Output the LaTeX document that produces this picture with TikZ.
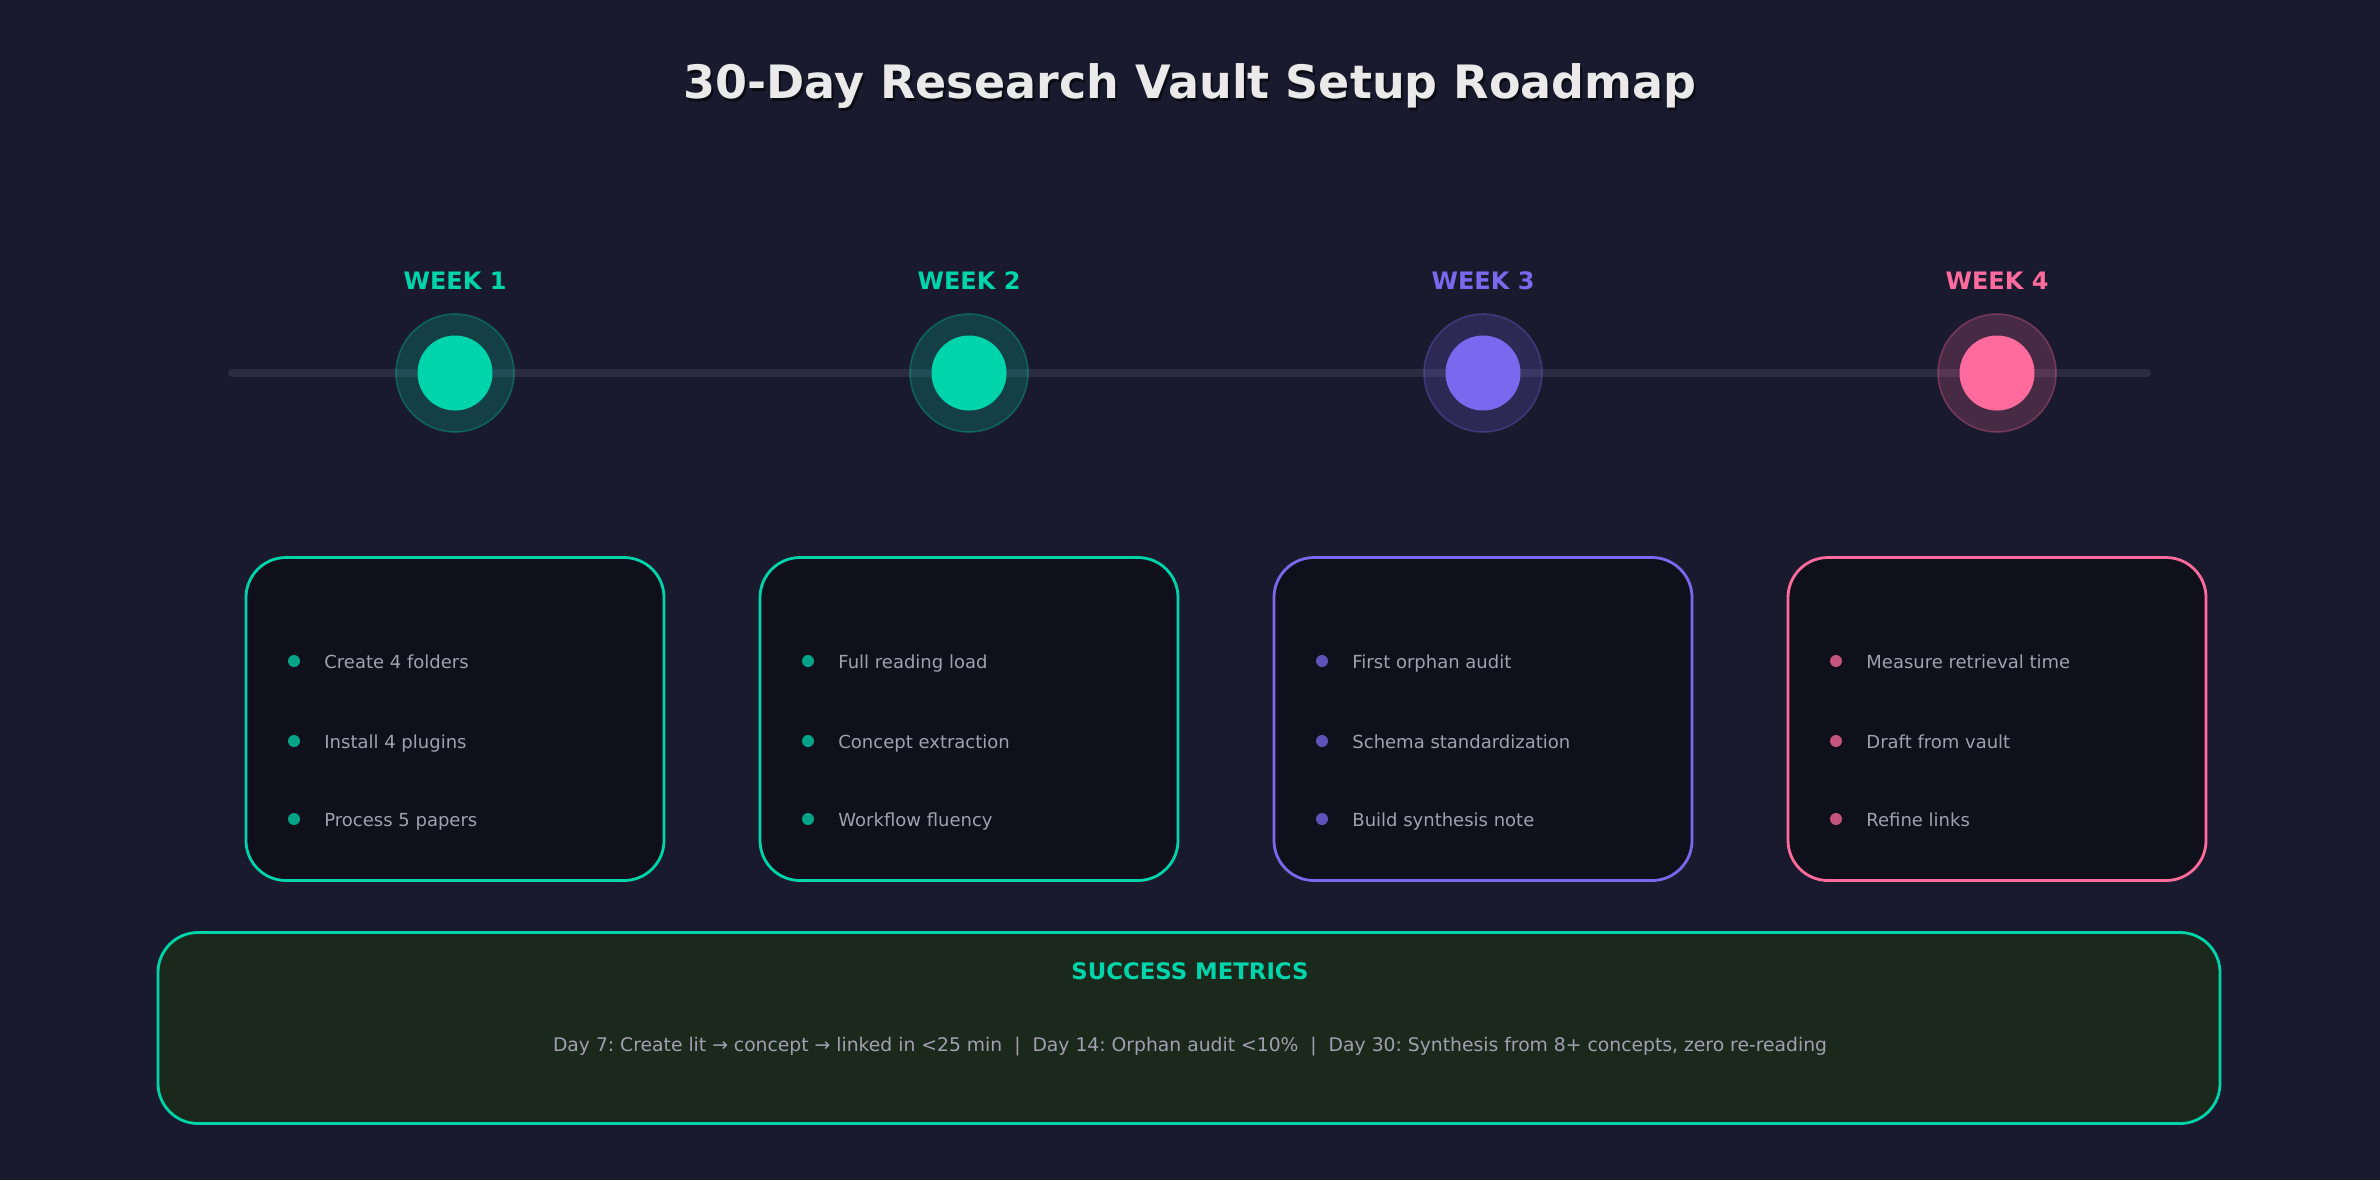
\documentclass[tikz,border=0pt]{standalone}
\usepackage{fontspec}
\setmainfont{DejaVu Sans}
\usepackage{xcolor}
\usetikzlibrary{positioning}
\frenchspacing

\definecolor{bg}{HTML}{1A1A2E}
\definecolor{track}{HTML}{2B2B42}
\definecolor{wkteal}{HTML}{00D4AA}
\definecolor{wkviolet}{HTML}{7B68EE}
\definecolor{wkpink}{HTML}{FF6B9D}
\definecolor{cardfill}{HTML}{10101C}
\definecolor{metricfill}{HTML}{1B291D}
\definecolor{itemgray}{HTML}{A0A0B0}
\definecolor{titlewhite}{HTML}{EAEAEA}

\begin{document}
\begin{tikzpicture}[x=0.5pt,y=-0.5pt,
	halo/.style={circle,minimum size=59pt,inner sep=0pt,fill=#1,fill opacity=0.2,
		draw=#1,draw opacity=0.3,line width=0.8pt},
	core/.style={circle,minimum size=37.5pt,inner sep=0pt,fill=#1},
	weeklabel/.style={text=#1,font=\bfseries\fontsize{12}{14}\selectfont,anchor=base,inner sep=0pt},
	card/.style={draw=#1,line width=1.4pt,fill=cardfill,rounded corners=20pt,
		minimum width=209pt,minimum height=161.5pt,inner sep=0pt},
	bullet/.style={circle,minimum size=6pt,inner sep=0pt,fill=#1,fill opacity=0.75},
	item/.style={text=itemgray,font=\fontsize{9}{11}\selectfont,anchor=base west,inner sep=0pt}]

	\fill[bg] (0,0) rectangle (2380,1180);
	\useasboundingbox (0,0) rectangle (2380,1180);

	\node[text=black,opacity=0.55,font=\bfseries\fontsize{23}{27}\selectfont,anchor=base,inner sep=0pt]
		(titleshadow) at (1192,101) {30-Day Research Vault Setup Roadmap};
	\node[text=titlewhite,font=\bfseries\fontsize{23}{27}\selectfont,anchor=base,inner sep=0pt]
		(title) at (1190,98) {30-Day Research Vault Setup Roadmap};

	\coordinate (trackstart) at (232,373);
	\coordinate (trackend) at (2147,373);
	\draw[track,line width=4pt,line cap=round] (trackstart) -- (trackend);

	\foreach \i/\cx/\col/\a/\b/\c in {
		1/455/wkteal/Create 4 folders/Install 4 plugins/Process 5 papers,
		2/969/wkteal/Full reading load/Concept extraction/Workflow fluency,
		3/1483/wkviolet/First orphan audit/Schema standardization/Build synthesis note,
		4/1997/wkpink/Measure retrieval time/Draft from vault/Refine links} {
		\node[weeklabel=\col] (week\i) at (\cx,289) {WEEK \i};
		\node[halo=\col] (halo\i) at (\cx,373) {};
		\node[core=\col] (dot\i) at (\cx,373) {};
		\node[card=\col] (card\i) at (\cx,719) {};
		\node[bullet=\col] (bul\i a) at ({\cx-161},661) {};
		\node[bullet=\col] (bul\i b) at ({\cx-161},741) {};
		\node[bullet=\col] (bul\i c) at ({\cx-161},819) {};
		\node[item] (txt\i a) at ({\cx-131},668) {\a};
		\node[item] (txt\i b) at ({\cx-131},748) {\b};
		\node[item] (txt\i c) at ({\cx-131},826) {\c};
	}

	\node[draw=wkteal,line width=1.4pt,fill=metricfill,rounded corners=20pt,
		minimum width=1031pt,minimum height=95.5pt,inner sep=0pt] (metrics) at (1189,1028) {};
	\node[text=wkteal,font=\bfseries\fontsize{11.4}{13}\selectfont,anchor=base,inner sep=0pt]
		(metricstitle) at (1190,979) {SUCCESS METRICS};
	\node[text=itemgray,font=\fontsize{9.38}{11}\selectfont,anchor=base,inner sep=0pt]
		(metricstext) at (1190,1051) {Day 7: Create lit → concept → linked in <25 min~~|~~Day 14: Orphan audit <10\%~~|~~Day 30: Synthesis from 8+ concepts, zero re-reading};
\end{tikzpicture}
\end{document}
